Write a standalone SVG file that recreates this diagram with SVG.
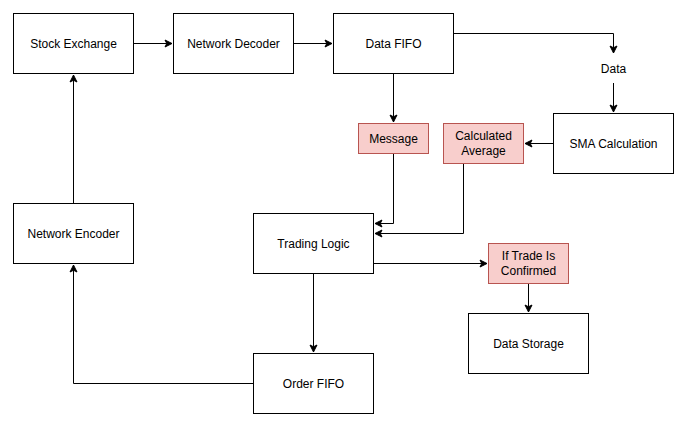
<svg xmlns="http://www.w3.org/2000/svg" width="687" height="427" viewBox="0 0 687 427">
<style>
.n{fill:#fff;stroke:#000;stroke-width:1}
.h{fill:#f8cecc;stroke:#b85450;stroke-width:1}
text{font-family:"Liberation Sans",Arial,sans-serif;font-size:12px;fill:#000;text-anchor:middle}
.c path{fill:none;stroke:#000;stroke-width:1;marker-end:url(#a)}
</style>
<defs>
<marker id="a" markerUnits="userSpaceOnUse" markerWidth="10" markerHeight="10" refX="8" refY="5" orient="auto" viewBox="0 0 10 10">
<path d="M1,1.5 L8,5 L1,8.5 L2.75,5 Z" fill="#000" stroke="#000" stroke-width="1"/>
</marker>
</defs>
<rect width="687" height="427" fill="#fff"/>
<g class="c" id="connectors">
<path d="M133.5,43.5 H172"/>
<path d="M293.5,43.5 H332"/>
<path d="M453.5,33.5 H613.5 V53"/>
<path d="M613.5,83 V112"/>
<path d="M393.5,73.5 V122"/>
<path d="M553.5,143.5 H525"/>
<path d="M393.5,153.5 V223.5 H375"/>
<path d="M463.5,163.5 V233.5 H375"/>
<path d="M373.5,263.5 H487"/>
<path d="M528.5,283.5 V312"/>
<path d="M313.5,273.5 V352"/>
<path d="M253.5,383.5 H73.5 V265"/>
<path d="M73.5,203.5 V75"/>
</g>
<g id="stock-exchange"><rect class="n" x="13.5" y="13.5" width="120" height="60"/><text x="73.5" y="47.5">Stock Exchange</text></g>
<g id="network-decoder"><rect class="n" x="173.5" y="13.5" width="120" height="60"/><text x="233.5" y="47.5">Network Decoder</text></g>
<g id="data-fifo"><rect class="n" x="333.5" y="13.5" width="120" height="60"/><text x="393.5" y="47.5">Data FIFO</text></g>
<g id="data-label"><text x="613.5" y="73">Data</text></g>
<g id="sma"><rect class="n" x="553.5" y="113.5" width="120" height="60"/><text x="613.5" y="147.5">SMA Calculation</text></g>
<g id="message"><rect class="h" x="358.5" y="123.5" width="70" height="30"/><text x="393.5" y="142.5">Message</text></g>
<g id="calc-avg"><rect class="h" x="443.5" y="123.5" width="80" height="40"/><text x="483.5" y="140">Calculated</text><text x="483.5" y="155">Average</text></g>
<g id="trading-logic"><rect class="n" x="253.5" y="213.5" width="120" height="60"/><text x="313.5" y="247.5">Trading Logic</text></g>
<g id="if-trade"><rect class="h" x="488.5" y="243.5" width="80" height="40"/><text x="528.5" y="260">If Trade Is</text><text x="528.5" y="275">Confirmed</text></g>
<g id="data-storage"><rect class="n" x="468.5" y="313.5" width="120" height="60"/><text x="528.5" y="347.5">Data Storage</text></g>
<g id="network-encoder"><rect class="n" x="13.5" y="203.5" width="120" height="60"/><text x="73.5" y="237.5">Network Encoder</text></g>
<g id="order-fifo"><rect class="n" x="253.5" y="353.5" width="120" height="60"/><text x="313.5" y="387.5">Order FIFO</text></g>
</svg>
